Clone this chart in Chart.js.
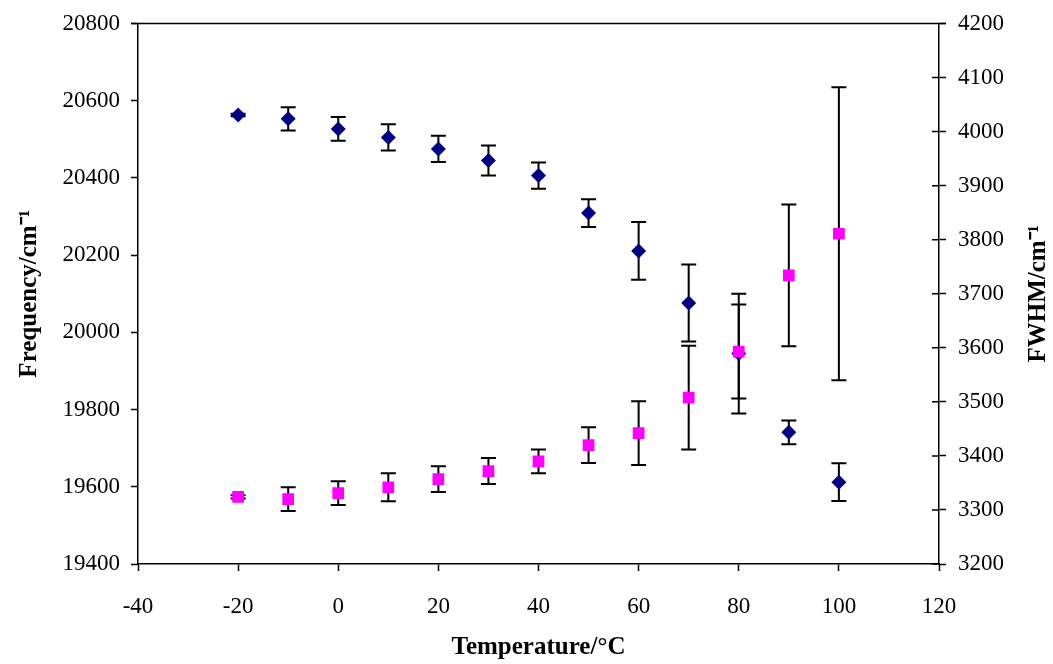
<!DOCTYPE html>
<html>
<head>
<meta charset="utf-8">
<script src="https://cdn.jsdelivr.net/npm/chart.js@4/dist/chart.umd.min.js"></script>
<style>
  html, body { margin: 0; padding: 0; background: #fff; }
  #wrap { width: 1053px; height: 664px; }
</style>
</head>
<body>
<div id="wrap"><canvas id="chart" width="1053" height="664"></canvas></div>
<script>
var temps = [-20, -10, 0, 10, 20, 30, 40, 50, 60, 70, 80, 90, 100];
var freq = [20563, 20553, 20527, 20505, 20475, 20445, 20406, 20309, 20211, 20076, 19945, 19741, 19612];
var freqErr = [3, 30, 31, 34, 34, 39, 34, 36, 75, 100, 155, 31, 49];
var fwhm = [3324, 3320, 3331, 3342, 3357, 3372, 3390, 3420, 3442, 3508, 3593, 3734, 3811];
var fwhmErr = [3, 22, 22, 26, 24, 24, 22, 33, 59, 96, 87, 131, 271];

var serif = "'Liberation Serif', 'Times New Roman', serif";

function pts(ys) {
  return temps.map(function (t, i) { return {x: t, y: ys[i]}; });
}

// vertical error bars with caps, drawn under the markers
var errorBars = {
  id: "errorBars",
  beforeDatasetsDraw: function (chart) {
    var ctx = chart.ctx;
    var x = chart.scales.x;
    var sets = [
      {scale: chart.scales.y, vals: freq, errs: freqErr},
      {scale: chart.scales.y2, vals: fwhm, errs: fwhmErr}
    ];
    ctx.save();
    ctx.strokeStyle = "#000";
    ctx.lineWidth = 2;
    sets.forEach(function (s) {
      temps.forEach(function (t, i) {
        var px = x.getPixelForValue(t);
        var top = s.scale.getPixelForValue(s.vals[i] + s.errs[i]);
        var bot = s.scale.getPixelForValue(s.vals[i] - s.errs[i]);
        ctx.beginPath();
        ctx.moveTo(px, top); ctx.lineTo(px, bot);
        ctx.moveTo(px - 7.5, top); ctx.lineTo(px + 7.5, top);
        ctx.moveTo(px - 7.5, bot); ctx.lineTo(px + 7.5, bot);
        ctx.stroke();
      });
    });
    ctx.restore();
  }
};

// top border, inner ticks on the right axis and the right axis title
var frame = {
  id: "frame",
  afterDraw: function (chart) {
    var ctx = chart.ctx;
    var a = chart.chartArea;
    var y2 = chart.scales.y2;
    ctx.save();
    ctx.strokeStyle = "#000";
    ctx.lineWidth = 1.5;
    ctx.beginPath();
    ctx.moveTo(a.left - 7, a.top); ctx.lineTo(a.right + 7, a.top);
    y2.ticks.forEach(function (tk) {
      var py = y2.getPixelForValue(tk.value);
      ctx.moveTo(a.right - 7, py); ctx.lineTo(a.right, py);
    });
    ctx.stroke();

    ctx.translate(1039, (a.top + a.bottom) / 2);
    ctx.rotate(-Math.PI / 2);
    ctx.fillStyle = "#000";
    ctx.font = "bold 25px " + serif;
    ctx.textAlign = "center";
    ctx.textBaseline = "middle";
    ctx.fillText("FWHM/cm\u207B\u00B9", 0, 0);
    ctx.restore();
  }
};

var axisGrid = {drawOnChartArea: false, drawTicks: true, tickLength: 7, tickWidth: 1.5, color: "#000"};
var axisBorder = {display: true, color: "#000", width: 1.5};
var tickFont = {family: serif, size: 23, lineHeight: 1};
var plain = function (v) { return String(v); };

new Chart(document.getElementById("chart"), {
  type: "scatter",
  data: {
    datasets: [{
      label: "FWHM",
      data: pts(fwhm),
      yAxisID: "y2",
      pointStyle: "rect",
      pointRadius: 8.3,
      pointHoverRadius: 8.3,
      backgroundColor: "#ff00ff",
      borderColor: "#ff00ff",
      borderWidth: 0,
      order: 0
    }, {
      label: "Frequency",
      data: pts(freq),
      yAxisID: "y",
      pointStyle: "rectRot",
      pointRadius: 7.5,
      pointHoverRadius: 7.5,
      backgroundColor: "#000080",
      borderColor: "#000080",
      borderWidth: 0,
      order: 1
    }]
  },
  options: {
    responsive: false,
    animation: false,
    layout: {padding: {top: 23, left: 0, right: 0, bottom: 0}},
    plugins: {legend: {display: false}, tooltip: {enabled: false}},
    scales: {
      x: {
        type: "linear",
        min: -40, max: 120,
        grid: axisGrid, border: axisBorder,
        ticks: {stepSize: 20, color: "#000", font: tickFont, padding: 24, maxRotation: 0, callback: plain},
        title: {display: true, text: "Temperature/\u00B0C", color: "#000",
                font: {family: serif, size: 25, weight: "bold"}, padding: {top: 0, bottom: 1}},
        afterFit: function (s) { s.height = 100; }
      },
      y: {
        position: "left",
        min: 19400, max: 20800,
        grid: axisGrid, border: axisBorder,
        ticks: {stepSize: 200, color: "#000", font: tickFont, padding: 11, callback: plain},
        title: {display: true, text: "Frequency/cm\u207B\u00B9", color: "#000",
                font: {family: serif, size: 25, weight: "bold"}, padding: {top: 15, bottom: 0}},
        afterFit: function (s) { s.width = 138; }
      },
      y2: {
        position: "right",
        min: 3200, max: 4200,
        grid: axisGrid, border: axisBorder,
        ticks: {stepSize: 100, color: "#000", font: tickFont, padding: 12, callback: plain},
        afterFit: function (s) { s.width = 114; }
      }
    }
  },
  plugins: [errorBars, frame]
});
</script>
</body>
</html>
